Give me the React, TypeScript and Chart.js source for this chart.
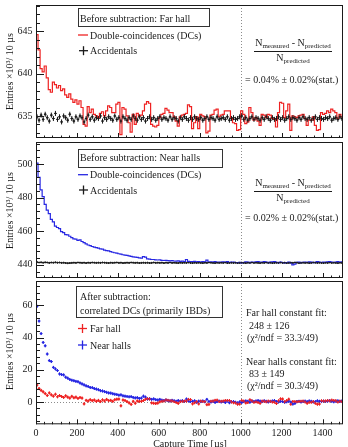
import React, { useEffect, useRef } from "react";
import { Chart, registerables } from "chart.js";

Chart.register(...registerables);

const FONT = "'Liberation Serif', 'Times New Roman', Times, serif";
const INK = "#1a1a1a";
const RED = "#ee2222";
const BLUE = "#2626e2";
const DOT = "#8c8c8c";

// 10 µs bins from 0 to 1500 µs
const BIN_WIDTH = 10;
const N_BINS = 150;
const binStarts = Array.from({ length: N_BINS }, (_, i) => i * BIN_WIDTH);

const xTickLabels = [0, 200, 400, 600, 800, 1000, 1200, 1400];
const farYTicks = [635, 640, 645];
const nearYTicks = [440, 460, 480, 500];
const corrYTicks = [0, 20, 40, 60];

// Far hall, before subtraction (entries ×10³ per 10 µs)
const farDC = [
  644.6, 642.8, 640.6, 640.2, 640.9, 639.5, 638.1, 637.8, 639.0, 638.7,
  638.3, 638.6, 638.0, 638.2, 637.5, 637.2, 637.6, 637.0, 636.6, 636.9,
  636.4, 636.8, 636.0, 634.0, 633.8, 636.1, 635.4, 635.8, 635.2, 635.0,
  634.8, 635.3, 635.5, 635.0, 635.6, 636.2, 636.0, 635.4, 635.4, 636.4,
  636.6, 632.8, 636.0, 635.8, 635.0, 634.2, 633.1, 635.2, 634.0, 635.3,
  635.0, 635.1, 635.6, 636.4, 636.7, 636.5, 634.0, 633.8, 633.7, 633.9,
  634.8, 635.2, 635.3, 635.9, 635.7, 635.4, 635.4, 634.9, 634.4, 633.8,
  634.9, 635.1, 635.2, 635.3, 636.3, 636.1, 633.5, 634.2, 634.9, 633.5,
  635.2, 635.0, 634.9, 633.0, 633.2, 635.1, 635.2, 635.7, 635.8, 634.9,
  635.1, 635.2, 635.6, 635.6, 635.6, 634.7, 634.2, 634.1, 633.3, 633.4,
  635.6, 635.2, 634.1, 634.3, 636.0, 635.4, 634.5, 634.8, 634.4, 633.9,
  635.2, 635.1, 634.8, 635.2, 635.1, 634.7, 634.6, 633.7, 635.4, 636.6,
  636.5, 634.8, 635.6, 636.4, 633.3, 635.0, 634.9, 634.8, 635.0, 635.1,
  635.2, 634.7, 633.9, 634.5, 634.5, 634.9, 633.9, 633.3, 633.4, 635.4,
  635.2, 635.3, 635.6, 635.4, 635.8, 635.6, 635.4, 634.7, 635.2, 634.9,
];
const farAcc = [
  634.9, 634.5, 635.1, 634.6, 635.2, 634.8, 634.4, 635.1, 634.7, 635.3,
  634.6, 634.9, 634.3, 635.0, 634.8, 634.5, 635.2, 634.7, 634.4, 634.9,
  634.6, 635.0, 634.8, 634.3, 634.7, 635.1, 634.6, 634.9, 634.5, 634.8,
  634.7, 635.0, 634.4, 634.8, 634.6, 634.9, 634.7, 634.5, 635.0, 634.6,
  634.8, 634.4, 634.9, 634.7, 634.5, 634.8, 634.6, 635.0, 634.7, 634.5,
  634.9, 634.6, 634.8, 634.4, 634.7, 634.9, 634.6, 634.8, 634.5, 634.7,
  634.9, 634.6, 634.8, 634.7, 634.5, 634.9, 634.6, 634.8, 634.7, 634.4,
  634.8, 634.6, 634.9, 634.7, 634.5, 634.8, 634.6, 634.9, 634.7, 634.6,
  634.8, 634.5, 634.7, 634.9, 634.6, 634.8, 634.7, 634.5, 634.9, 634.6,
  634.7, 634.8, 634.6, 634.9, 634.5, 634.7, 634.8, 634.6, 634.7, 634.9,
  635.0, 634.6, 634.8, 634.5, 634.7, 634.9, 634.6, 634.8, 634.7, 634.5,
  634.8, 634.6, 634.9, 634.7, 634.5, 634.8, 634.6, 634.7, 634.9, 634.6,
  634.8, 634.5, 634.7, 634.9, 634.6, 634.8, 634.7, 634.5, 634.8, 634.6,
  634.9, 634.7, 634.6, 634.8, 634.5, 634.7, 634.9, 634.6, 634.8, 634.7,
  634.6, 634.8, 634.7, 634.9, 634.5, 634.7, 634.8, 634.6, 634.9, 634.7,
];
const FAR_ACC_ERR = 0.3;

// Near halls, before subtraction
const nearDC = [
  500.5, 492.0, 484.5, 480.5, 476.0, 472.5, 470.5, 467.0, 465.5, 463.0,
  462.2, 461.5, 459.8, 459.2, 458.0, 457.8, 457.0, 456.2, 455.5, 455.3,
  454.6, 454.8, 453.9, 453.2, 452.5, 451.8, 451.4, 450.9, 450.6, 450.2,
  449.9, 449.5, 449.4, 448.8, 448.5, 448.3, 447.9, 447.5, 447.2, 447.0,
  446.6, 446.4, 446.0, 445.8, 445.6, 445.3, 445.0, 444.8, 444.6, 444.4,
  444.2, 444.0, 444.9, 444.6, 443.6, 443.4, 443.2, 443.2, 443.0, 442.9,
  443.0, 442.7, 442.6, 442.7, 442.5, 442.4, 442.5, 442.3, 442.2, 442.4,
  442.1, 442.2, 442.0, 443.2, 442.1, 442.0, 441.9, 442.1, 441.8, 442.0,
  441.7, 441.9, 441.8, 442.8, 441.7, 441.8, 441.6, 441.9, 441.5, 441.7,
  441.6, 441.8, 441.5, 441.9, 441.4, 441.6, 441.7, 441.4, 441.3, 441.5,
  441.2, 441.4, 441.8, 441.6, 441.3, 441.7, 441.5, 441.8, 442.0, 441.7,
  441.5, 441.9, 441.6, 441.3, 441.6, 441.8, 442.0, 441.5, 441.3, 441.6,
  441.4, 441.1, 441.4, 441.7, 441.2, 440.0, 440.4, 441.5, 441.6, 441.3,
  441.5, 441.7, 441.4, 441.8, 441.6, 441.3, 441.5, 441.9, 441.6, 441.4,
  441.7, 441.5, 441.8, 442.0, 441.6, 441.4, 441.7, 441.9, 441.5, 441.8,
];
const nearAcc = [
  441.6, 441.4, 441.5, 441.3, 441.5, 441.4, 441.2, 441.4, 441.3, 441.5,
  441.3, 441.4, 441.2, 441.3, 441.1, 441.0, 441.1, 441.2, 441.3, 441.2,
  441.4, 441.3, 441.2, 441.3, 441.1, 441.3, 441.2, 441.4, 441.3, 441.2,
  441.3, 441.2, 441.4, 441.3, 441.2, 441.1, 441.3, 441.2, 441.3, 441.4,
  441.2, 441.3, 441.1, 441.2, 441.3, 441.2, 441.4, 441.3, 441.2, 441.3,
  441.1, 441.2, 441.3, 441.2, 441.3, 441.1, 441.2, 441.4, 441.2, 441.3,
  441.2, 441.3, 441.1, 441.3, 441.2, 441.4, 441.2, 441.3, 441.2, 441.1,
  441.3, 441.2, 441.3, 441.2, 441.4, 441.2, 441.1, 441.3, 441.2, 441.3,
  441.2, 441.1, 441.3, 441.2, 441.4, 441.3, 441.2, 441.1, 441.3, 441.2,
  441.3, 441.2, 441.4, 441.1, 441.2, 441.3, 441.2, 441.3, 441.1, 441.2,
  441.3, 441.2, 441.1, 441.3, 441.2, 441.4, 441.2, 441.3, 441.2, 441.1,
  441.3, 441.2, 441.4, 441.2, 441.3, 441.1, 441.2, 441.3, 441.2, 441.4,
  441.2, 441.3, 441.1, 441.2, 441.3, 441.2, 441.4, 441.3, 441.1, 441.2,
  441.3, 441.2, 441.3, 441.1, 441.2, 441.4, 441.3, 441.2, 441.3, 441.2,
  441.1, 441.3, 441.2, 441.4, 441.2, 441.3, 441.2, 441.1, 441.3, 441.2,
];
const NEAR_ACC_ERR = 0.25;

// After subtraction: correlated DCs
const farCorr = [
  10.5, 8.4, 7.2, 6.3, 5.2, 4.0, 5.6, 4.4, 3.6, 4.8,
  3.2, 4.0, 3.4, 2.8, 3.8, 3.0, 2.4, 3.5, 2.6, 3.0,
  2.2, 2.8, 2.4, -1.2, 1.0, 0.6, 1.4, 0.8, 1.2, 0.4,
  1.0, 0.2, 1.3, 0.6, 1.6, 0.8, 1.0, 0.4, 1.4, 1.7,
  1.8, -2.4, 1.2, 0.9, 0.2, -0.6, -1.5, 0.4, -0.8, 0.6,
  0.3, 0.4, 0.9, 1.7, 2.0, 1.8, -0.6, -0.8, -1.0, -0.7,
  0.1, 0.5, 0.6, 1.2, 1.0, 0.7, 0.7, 0.2, -0.3, -0.9,
  0.2, 0.4, 0.5, 0.6, 1.6, 1.4, -1.2, -0.5, 0.2, -1.2,
  0.5, 0.3, 0.2, -1.7, -1.5, 0.4, 0.5, 1.0, 1.1, 0.2,
  0.4, 0.5, 0.9, 0.9, 0.9, 0.0, -0.5, -0.6, -1.4, -1.3,
  0.9, 0.5, -0.6, -0.4, 1.3, 0.7, -0.2, 0.1, -0.3, -0.8,
  0.5, 0.4, 0.1, 0.5, 0.4, 0.0, -0.1, -1.0, 0.7, 1.9,
  1.8, 0.1, 0.9, 1.7, -1.4, 0.3, 0.2, 0.1, 0.3, 0.4,
  0.5, 0.0, -0.8, -0.2, -0.2, 0.2, -0.8, -1.4, -1.3, 0.7,
  0.5, 0.6, 0.9, 0.7, 1.1, 0.9, 0.7, 0.0, 0.5, 0.2,
];
const nearCorr = [
  59.5, 50.3, 42.5, 37.0, 34.9, 29.8, 25.7, 25.1, 21.5, 20.5,
  19.5, 17.4, 17.0, 16.8, 15.4, 14.8, 14.0, 13.5, 13.2, 12.8,
  12.6, 11.8, 11.2, 10.6, 10.0, 9.6, 9.0, 8.9, 8.3, 8.0,
  7.6, 7.0, 6.8, 6.4, 6.0, 5.6, 5.5, 5.1, 4.8, 4.6,
  4.2, 4.4, 3.8, 3.6, 3.4, 3.2, 3.3, 2.8, 2.5, 2.7,
  2.2, 2.4, 3.6, 3.0, 1.8, 2.0, 1.6, 1.9, 1.4, 1.2,
  1.6, 1.1, 0.9, 1.2, 0.8, 0.6, 1.0, 0.7, 0.4, 0.9,
  0.5, 0.8, 0.3, 1.8, 0.6, 0.2, 0.4, 0.7, -0.2, 0.5,
  0.2, 0.6, 0.1, 1.6, 0.3, 0.0, 0.4, -0.3, 0.2, 0.5,
  0.0, 0.3, -0.4, 0.5, -0.5, 0.1, 0.3, -0.2, -0.6, 0.0,
  -0.4, 0.2, 0.6, 0.4, -0.2, 0.5, 0.3, 0.6, 0.9, 0.5,
  0.2, 0.7, 0.4, 0.0, 0.3, 0.6, 0.9, 0.2, 0.0, 0.4,
  0.2, -0.2, 0.1, 0.5, -0.1, -1.3, -0.9, 0.3, 0.4, 0.0,
  0.3, 0.5, 0.2, 0.6, 0.4, 0.0, 0.2, 0.7, 0.4, 0.2,
  0.5, 0.3, 0.6, 0.8, 0.4, 0.1, 0.5, 0.7, 0.3, 0.6,
];
const CORR_ERR = 0.9;

const Y_TITLE = "Entries \u00d710\u00b3/ 10 \u00b5s";
const X_TITLE = "Capture Time [\u00b5s]";

// step-histogram outline: left bin edges plus the closing edge
const hist = (vals: number[]) => [
  ...vals.map((v, i) => ({ x: binStarts[i], y: v })),
  { x: binStarts[vals.length - 1] + BIN_WIDTH, y: vals[vals.length - 1] },
];
// markers at bin centres
const pts = (vals: number[]) => vals.map((v, i) => ({ x: binStarts[i] + BIN_WIDTH / 2, y: v }));

type Run = { t: string; size?: number; dy?: number };
type TextItem = { runs: Run[]; x: number; y: number; align?: "left" | "center" };
type Mark = { kind: "line" | "cross"; color: string; x: number; y: number };
type Spec = {
  key: string;
  top: number;
  height: number;
  padTop: number;
  padBottom: number;
  xAxisHeight: number;
  showX: boolean;
  yMin: number;
  yMax: number;
  yTicks: number[];
  yMinorStep: number;
  datasets: any[];
  zeroLine: boolean;
  box: [number, number, number, number];
  texts: TextItem[];
  marks: Mark[];
  fraction?: [number, number, number];
  titleTop: number;
};

const txt = (t: string, x: number, y: number, align: "left" | "center" = "left"): TextItem => ({
  runs: [{ t }],
  x,
  y,
  align,
});
const ratioNum = (cx: number, y: number): TextItem => ({
  runs: [
    { t: "N" },
    { t: "measured", size: 7, dy: 2 },
    { t: " - N" },
    { t: "predicted", size: 7, dy: 2 },
  ],
  x: cx,
  y,
  align: "center",
});
const ratioDen = (cx: number, y: number): TextItem => ({
  runs: [{ t: "N" }, { t: "predicted", size: 7, dy: 2 }],
  x: cx,
  y,
  align: "center",
});

const histLine = (vals: number[], color: string) => ({
  data: hist(vals),
  stepped: true,
  borderColor: color,
  borderWidth: 1.2,
  pointRadius: 0,
  fill: false,
});
const crossPoints = (vals: number[], color: string, err: number, r: number) => ({
  data: pts(vals),
  showLine: false,
  pointStyle: "cross",
  pointRadius: r,
  pointBorderWidth: 1,
  pointBorderColor: color,
  borderColor: color,
  backgroundColor: color,
  errY: err,
  errColor: color,
});

const specs: Spec[] = [
  {
    key: "far",
    top: 0,
    height: 143,
    padTop: 2,
    padBottom: 3,
    xAxisHeight: 0,
    showX: false,
    yMin: 632.4,
    yMax: 648.1,
    yTicks: farYTicks,
    yMinorStep: 1,
    datasets: [histLine(farDC, RED), crossPoints(farAcc, INK, FAR_ACC_ERR, 1.3)],
    zeroLine: false,
    box: [78, 8, 209, 26],
    texts: [
      txt("Before subtraction: Far hall", 80, 21.8),
      txt("Double-coincidences (DCs)", 90, 38.5),
      txt("Accidentals", 90, 54.2),
      ratioNum(293, 46.2),
      ratioDen(293, 60.5),
      txt("= 0.04% \u00b1 0.02%(stat.)", 245, 82.5),
    ],
    marks: [
      { kind: "line", color: RED, x: 83, y: 35 },
      { kind: "cross", color: INK, x: 83.5, y: 50.7 },
    ],
    fraction: [254, 332, 50.7],
    titleTop: 33,
  },
  {
    key: "near",
    top: 137,
    height: 146,
    padTop: 3,
    padBottom: 3.5,
    xAxisHeight: 0,
    showX: false,
    yMin: 432.2,
    yMax: 513.0,
    yTicks: nearYTicks,
    yMinorStep: 4,
    datasets: [histLine(nearDC, BLUE), crossPoints(nearAcc, INK, NEAR_ACC_ERR, 1)],
    zeroLine: false,
    box: [78, 149, 222, 167],
    texts: [
      txt("Before subtraction: Near halls", 80, 161.2),
      txt("Double-coincidences (DCs)", 90, 178.2),
      txt("Accidentals", 90, 193.5),
      ratioNum(293, 186.2),
      ratioDen(293, 200.5),
      txt("= 0.02% \u00b1 0.02%(stat.)", 245, 221.2),
    ],
    marks: [
      { kind: "line", color: BLUE, x: 83, y: 174.7 },
      { kind: "cross", color: INK, x: 83.5, y: 190 },
    ],
    fraction: [254, 332, 190.7],
    titleTop: 172,
  },
  {
    key: "corr",
    top: 276,
    height: 171,
    padTop: 3.5,
    padBottom: 0,
    xAxisHeight: 22.7,
    showX: true,
    yMin: -13.9,
    yMax: 75.2,
    yTicks: corrYTicks,
    yMinorStep: 4,
    datasets: [crossPoints(nearCorr, BLUE, CORR_ERR, 1.4), crossPoints(farCorr, RED, CORR_ERR, 1.4)],
    zeroLine: true,
    box: [76, 286, 222, 316.7],
    texts: [
      txt("After subtraction:", 80, 299.5),
      txt("correlated DCs (primarily IBDs)", 80, 313.5),
      txt("Far hall", 90, 331.8),
      txt("Near halls", 90, 348.5),
      txt("Far hall constant fit:", 246, 316.2),
      txt("248 \u00b1 126", 249, 328.5),
      txt("(\u03c7\u00b2/ndf = 33.3/49)", 247, 340.8),
      txt("Near halls constant fit:", 246, 364.5),
      txt("83 \u00b1 149", 249, 376.8),
      txt("(\u03c7\u00b2/ndf = 30.3/49)", 247, 388.5),
      txt(X_TITLE, 190, 447, "center"),
    ],
    marks: [
      { kind: "cross", color: RED, x: 82.5, y: 328.5 },
      { kind: "cross", color: BLUE, x: 82.5, y: 345 },
    ],
    titleTop: 313,
  },
];

function drawRuns(ctx: CanvasRenderingContext2D, item: TextItem, offY: number) {
  const widths = item.runs.map((r) => {
    ctx.font = `${r.size ?? 10}px ${FONT}`;
    return ctx.measureText(r.t).width;
  });
  const total = widths.reduce((a, b) => a + b, 0);
  let cx = item.align === "center" ? item.x - total / 2 : item.x;
  item.runs.forEach((r, i) => {
    ctx.font = `${r.size ?? 10}px ${FONT}`;
    ctx.fillText(r.t, cx, item.y - offY + (r.dy ?? 0));
    cx += widths[i];
  });
}

function seg(ctx: CanvasRenderingContext2D, x0: number, y0: number, x1: number, y1: number) {
  ctx.beginPath();
  ctx.moveTo(x0, y0);
  ctx.lineTo(x1, y1);
  ctx.stroke();
}

function buildChart(canvas: HTMLCanvasElement, spec: Spec) {
  const decor = {
    id: "decor-" + spec.key,
    beforeDatasetsDraw(chart: any) {
      const { ctx, chartArea: a } = chart;
      const x = chart.scales.x;
      const y = chart.scales.y;
      ctx.save();
      ctx.strokeStyle = DOT;
      ctx.lineWidth = 1;
      ctx.setLineDash([1, 2]);
      const px = Math.round(x.getPixelForValue(1000)) + 0.5;
      seg(ctx, px, a.top, px, a.bottom);
      if (spec.zeroLine) {
        const py = Math.round(y.getPixelForValue(0)) + 0.5;
        seg(ctx, a.left, py, a.right, py);
      }
      ctx.restore();
    },
    afterDatasetsDraw(chart: any) {
      const { ctx, chartArea: a } = chart;
      const x = chart.scales.x;
      const y = chart.scales.y;
      ctx.save();
      ctx.beginPath();
      ctx.rect(a.left, a.top, a.right - a.left, a.bottom - a.top);
      ctx.clip();
      // error bars
      chart.data.datasets.forEach((ds: any) => {
        if (ds.errY == null) return;
        ctx.strokeStyle = ds.errColor;
        ctx.lineWidth = 1;
        ds.data.forEach((d: any) => {
          const cx = x.getPixelForValue(d.x);
          const cy = y.getPixelForValue(d.y);
          seg(ctx, cx, y.getPixelForValue(d.y - ds.errY), cx, y.getPixelForValue(d.y + ds.errY));
          seg(ctx, x.getPixelForValue(d.x - BIN_WIDTH / 2), cy, x.getPixelForValue(d.x + BIN_WIDTH / 2), cy);
        });
      });
      ctx.restore();

      // frame
      ctx.save();
      ctx.strokeStyle = INK;
      ctx.lineWidth = 1;
      ctx.strokeRect(a.left + 0.5, a.top + 0.5, a.right - a.left - 1, a.bottom - a.top - 1);
      // y ticks (inside)
      const yStart = Math.ceil(spec.yMin / spec.yMinorStep) * spec.yMinorStep;
      for (let v = yStart; v <= spec.yMax; v += spec.yMinorStep) {
        const major = spec.yTicks.includes(Math.round(v * 100) / 100);
        const py = Math.round(y.getPixelForValue(v)) + 0.5;
        seg(ctx, a.left, py, a.left + (major ? 8 : 4), py);
      }
      // x ticks (inside, bottom)
      for (let t = 0; t <= 1500; t += 40) {
        const major = t % 200 === 0;
        const px = Math.round(x.getPixelForValue(t)) + 0.5;
        seg(ctx, px, a.bottom, px, a.bottom - (major ? 5 : 2.5));
      }
      ctx.restore();
    },
    afterDraw(chart: any) {
      const { ctx } = chart;
      const off = spec.top;
      ctx.save();
      // legend box
      const [bx0, by0, bx1, by1] = spec.box;
      ctx.fillStyle = "#ffffff";
      ctx.fillRect(bx0, by0 - off, bx1 - bx0, by1 - by0);
      ctx.strokeStyle = "#333333";
      ctx.lineWidth = 1;
      ctx.strokeRect(Math.round(bx0) + 0.5, Math.round(by0 - off) + 0.5, Math.round(bx1 - bx0), Math.round(by1 - by0));
      // legend marks
      spec.marks.forEach((m) => {
        ctx.strokeStyle = m.color;
        ctx.lineWidth = 1.3;
        if (m.kind === "line") {
          seg(ctx, m.x - 5, m.y - off, m.x + 5, m.y - off);
        } else {
          seg(ctx, m.x - 4.5, m.y - off, m.x + 4.5, m.y - off);
          seg(ctx, m.x, m.y - off - 4.5, m.x, m.y - off + 4.5);
        }
      });
      // fraction bar
      if (spec.fraction) {
        const [fx0, fx1, fy] = spec.fraction;
        ctx.strokeStyle = INK;
        ctx.lineWidth = 1;
        seg(ctx, fx0, Math.round(fy - off) + 0.5, fx1, Math.round(fy - off) + 0.5);
      }
      // texts
      ctx.fillStyle = INK;
      ctx.textBaseline = "alphabetic";
      ctx.textAlign = "left";
      spec.texts.forEach((t) => drawRuns(ctx, t, off));
      // y-axis title, rotated, anchored at its upper end
      ctx.translate(10, spec.titleTop - off);
      ctx.rotate(-Math.PI / 2);
      ctx.font = `10px ${FONT}`;
      ctx.textAlign = "right";
      ctx.textBaseline = "middle";
      ctx.fillText(Y_TITLE, 0, 0);
      ctx.restore();
    },
  };

  return new Chart(canvas, {
    type: "line",
    data: { datasets: spec.datasets },
    options: {
      responsive: false,
      maintainAspectRatio: false,
      animation: false,
      events: [],
      layout: { padding: { left: 0, right: 4, top: spec.padTop, bottom: spec.padBottom } },
      plugins: { legend: { display: false }, tooltip: { enabled: false }, title: { display: false } },
      scales: {
        x: {
          type: "linear",
          min: 0,
          max: 1500,
          display: spec.showX,
          grid: { display: false, drawTicks: false },
          border: { display: false },
          ticks: {
            autoSkip: false,
            maxRotation: 0,
            padding: 3,
            color: INK,
            font: { family: FONT, size: 10 },
            callback: (v: any) => String(v),
          },
          afterBuildTicks: (s: any) => {
            s.ticks = xTickLabels.map((value) => ({ value }));
          },
          afterFit: (s: any) => {
            s.height = spec.xAxisHeight;
            s.paddingLeft = 0;
            s.paddingRight = 0;
          },
        },
        y: {
          type: "linear",
          min: spec.yMin,
          max: spec.yMax,
          grid: { display: false, drawTicks: false },
          border: { display: false },
          ticks: {
            padding: 3.5,
            color: INK,
            font: { family: FONT, size: 10 },
            callback: (v: any) => String(v),
          },
          afterBuildTicks: (s: any) => {
            s.ticks = spec.yTicks.map((value) => ({ value }));
          },
          afterFit: (s: any) => {
            s.width = 36;
            s.paddingTop = 0;
            s.paddingBottom = 0;
          },
        },
      },
    } as any,
    plugins: [decor],
  });
}

export default function App() {
  const refs = [useRef<HTMLCanvasElement>(null), useRef<HTMLCanvasElement>(null), useRef<HTMLCanvasElement>(null)];

  useEffect(() => {
    const charts = specs.map((s, i) => buildChart(refs[i].current as HTMLCanvasElement, s));
    return () => charts.forEach((c) => c.destroy());
  }, []);

  return (
    <div
      style={{
        position: "absolute",
        left: 0,
        top: 0,
        width: 348,
        height: 447,
        overflow: "hidden",
        background: "#ffffff",
      }}
    >
      {specs.map((s, i) => (
        <canvas
          key={s.key}
          ref={refs[i]}
          width={348}
          height={s.height}
          style={{ position: "absolute", left: 0, top: s.top, width: 348, height: s.height, display: "block" }}
        />
      ))}
    </div>
  );
}
